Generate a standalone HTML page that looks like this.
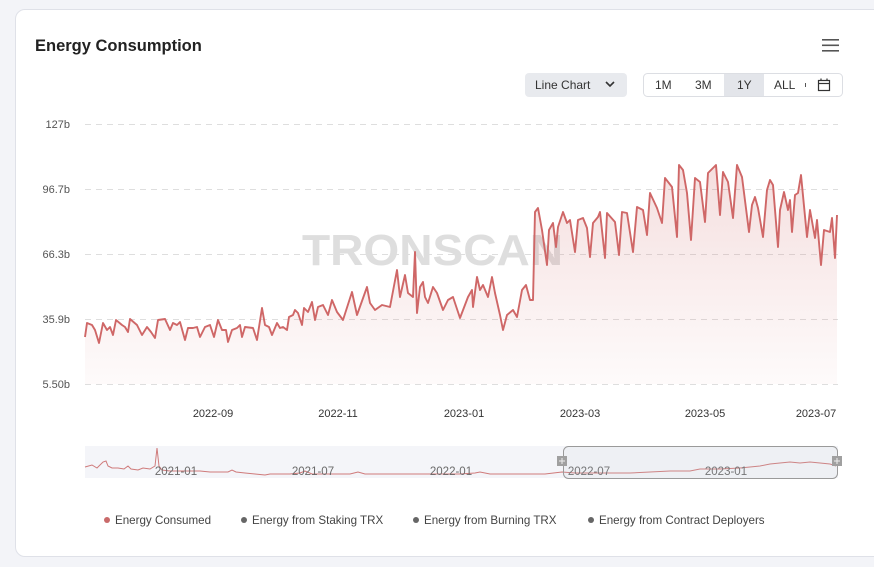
<!DOCTYPE html>
<html>
<head>
<meta charset="utf-8">
<style>
  html,body{margin:0;padding:0;}
  body{width:874px;height:567px;background:#f3f4f8;overflow:hidden;position:relative;font-family:"Liberation Sans",sans-serif;}
  .card{position:absolute;left:15px;top:9px;width:880px;height:548px;background:#fff;border:1px solid #dfe1e8;border-radius:10px;box-sizing:border-box;}
  svg{position:absolute;left:0;top:0;}
</style>
</head>
<body>
<div class="card"></div>
<svg width="874" height="567" viewBox="0 0 874 567" xmlns="http://www.w3.org/2000/svg" font-family="Liberation Sans, sans-serif">
  <defs>
    <linearGradient id="fillg" x1="0" y1="160" x2="0" y2="384" gradientUnits="userSpaceOnUse">
      <stop offset="0" stop-color="#d06a6a" stop-opacity="0.22"/>
      <stop offset="1" stop-color="#d06a6a" stop-opacity="0.03"/>
    </linearGradient>
  </defs>

  <!-- Title -->
  <text x="35" y="51" font-size="16.5" font-weight="bold" fill="#222">Energy Consumption</text>
  <!-- hamburger -->
  <rect x="822" y="39" width="17" height="1.6" fill="#555"/>
  <rect x="822" y="44.5" width="17" height="1.6" fill="#555"/>
  <rect x="822" y="50" width="17" height="1.6" fill="#555"/>

  <!-- Line chart dropdown -->
  <rect x="525" y="73" width="102" height="24" rx="4" fill="#e8eaee"/>
  <text x="535" y="89" font-size="12" fill="#333">Line Chart</text>
  <path d="M606 82 L610 86 L614 82" fill="none" stroke="#333" stroke-width="1.6"/>

  <!-- range group -->
  <rect x="643.5" y="73.5" width="199" height="23" rx="4" fill="#fff" stroke="#dcdee3"/>
  <rect x="724" y="74" width="40" height="22" fill="#e3e5ea"/>
  <text x="655" y="89" font-size="12" fill="#333">1M</text>
  <text x="695" y="89" font-size="12" fill="#333">3M</text>
  <text x="737" y="89" font-size="12" fill="#333">1Y</text>
  <text x="774" y="89" font-size="12" fill="#333">ALL</text>
  <rect x="805" y="83" width="1" height="4" fill="#555"/>
  <rect x="818.5" y="80.5" width="11" height="10" fill="none" stroke="#333" stroke-width="1.2"/>
  <line x1="818.5" y1="83.5" x2="829.5" y2="83.5" stroke="#333" stroke-width="1.2"/>
  <line x1="821" y1="78.5" x2="821" y2="81" stroke="#333" stroke-width="1.2"/>
  <line x1="827" y1="78.5" x2="827" y2="81" stroke="#333" stroke-width="1.2"/>

  <!-- grid -->
  <g stroke="#dedede" stroke-width="1" stroke-dasharray="6,5">
    <line x1="85" y1="124.5" x2="838" y2="124.5"/>
    <line x1="85" y1="189.5" x2="838" y2="189.5"/>
    <line x1="85" y1="254.5" x2="838" y2="254.5"/>
    <line x1="85" y1="319.5" x2="838" y2="319.5"/>
    <line x1="85" y1="384.5" x2="838" y2="384.5"/>
  </g>
  <g font-size="11" fill="#555" text-anchor="end">
    <text x="70" y="128">127b</text>
    <text x="70" y="193">96.7b</text>
    <text x="70" y="258">66.3b</text>
    <text x="70" y="323">35.9b</text>
    <text x="70" y="388">5.50b</text>
  </g>
  <g font-size="11" fill="#333" text-anchor="middle">
    <text x="213" y="417">2022-09</text>
    <text x="338" y="417">2022-11</text>
    <text x="464" y="417">2023-01</text>
    <text x="580" y="417">2023-03</text>
    <text x="705" y="417">2023-05</text>
    <text x="816" y="417">2023-07</text>
  </g>

  <!-- watermark -->
  <text x="302" y="265" font-size="44" font-weight="bold" fill="#dedede" textLength="261" lengthAdjust="spacingAndGlyphs">TRONSCAN</text>

  <!-- area -->
  <path fill="url(#fillg)" d="M85,384 L85,337 87,323 92,325 95,330 99,343 103,323 107,330 110,327 113,335 116,320 122,325 125,327 128,332 130,319 137,325 142,335 147,327 151,332 155,338 158,320 165,319 170,330 173,323 177,325 180,322 185,340 188,328 193,328 197,327 200,337 205,327 210,325 214,337 218,320 222,330 226,330 228,342 232,330 237,328 240,325 242,337 245,327 253,328 257,340 262,308 265,325 269,327 272,335 277,323 280,328 283,327 287,330 289,317 293,315 295,310 298,313 302,325 304,308 308,312 312,302 315,320 318,307 323,305 328,315 332,300 337,312 343,320 352,292 357,315 367,287 370,303 375,310 382,305 390,307 397,270 400,297 405,275 408,293 413,297 415,252 417,313 420,287 423,282 425,297 428,303 433,287 437,293 443,310 448,300 453,297 460,318 468,297 472,290 473,307 477,277 480,290 483,285 488,297 492,277 495,293 500,315 503,330 507,315 513,310 517,317 522,290 526,285 530,300 533,300 535,212 538,208 542,230 547,265 549,230 553,223 556,247 558,227 563,212 567,223 570,220 575,252 578,220 583,218 587,228 590,257 593,223 598,217 600,212 605,258 607,213 615,222 619,255 622,212 627,213 633,252 637,207 643,210 647,235 650,193 657,208 662,223 665,178 672,187 677,237 679,165 683,170 687,193 691,240 695,178 700,182 705,222 708,173 716,165 720,215 723,172 728,182 733,218 737,165 742,177 749,232 752,205 755,197 758,208 763,237 767,190 770,180 773,185 778,247 780,210 784,192 788,210 790,200 792,232 795,195 798,193 801,175 807,237 810,210 815,238 817,220 821,265 824,230 830,232 832,218 835,258 837,215 L837,384 Z"/>
  <!-- line -->
  <polyline fill="none" stroke="#cf6767" stroke-width="1.9" stroke-linejoin="round" points="85,337 87,323 92,325 95,330 99,343 103,323 107,330 110,327 113,335 116,320 122,325 125,327 128,332 130,319 137,325 142,335 147,327 151,332 155,338 158,320 165,319 170,330 173,323 177,325 180,322 185,340 188,328 193,328 197,327 200,337 205,327 210,325 214,337 218,320 222,330 226,330 228,342 232,330 237,328 240,325 242,337 245,327 253,328 257,340 262,308 265,325 269,327 272,335 277,323 280,328 283,327 287,330 289,317 293,315 295,310 298,313 302,325 304,308 308,312 312,302 315,320 318,307 323,305 328,315 332,300 337,312 343,320 352,292 357,315 367,287 370,303 375,310 382,305 390,307 397,270 400,297 405,275 408,293 413,297 415,252 417,313 420,287 423,282 425,297 428,303 433,287 437,293 443,310 448,300 453,297 460,318 468,297 472,290 473,307 477,277 480,290 483,285 488,297 492,277 495,293 500,315 503,330 507,315 513,310 517,317 522,290 526,285 530,300 533,300 535,212 538,208 542,230 547,265 549,230 553,223 556,247 558,227 563,212 567,223 570,220 575,252 578,220 583,218 587,228 590,257 593,223 598,217 600,212 605,258 607,213 615,222 619,255 622,212 627,213 633,252 637,207 643,210 647,235 650,193 657,208 662,223 665,178 672,187 677,237 679,165 683,170 687,193 691,240 695,178 700,182 705,222 708,173 716,165 720,215 723,172 728,182 733,218 737,165 742,177 749,232 752,205 755,197 758,208 763,237 767,190 770,180 773,185 778,247 780,210 784,192 788,210 790,200 792,232 795,195 798,193 801,175 807,237 810,210 815,238 817,220 821,265 824,230 830,232 832,218 835,258 837,215"/>

  <!-- data zoom -->
  <rect x="85" y="446" width="753" height="32" fill="#f4f5f9"/>
  <polyline fill="none" stroke="#cf7a7a" stroke-width="1" points="85,467 92,465 97,468 103,462 106,461 108,466 112,468 118,468 124,469 128,466 131,469 138,470 143,468 150,469 155,466 157,448 159,466 162,470 170,471 180,471 190,471 200,471 210,472 220,472 228,472 232,470 236,472 245,473 255,474 265,475 270,474 280,474 290,474 300,473 305,471 312,474 330,474 350,474 358,472 365,474 380,474 400,474 420,474 440,474 460,474 475,473 480,472 490,474 520,474 545,474 562,472 575,473 585,473 600,473 630,473 650,472 670,471 690,471 700,469 720,469 740,468 760,466 770,464 780,463 790,462 800,463 810,462 820,463 830,464 836,466"/>
  <g font-size="11.5" fill="#6a6a6a" text-anchor="middle">
    <text x="176" y="475">2021-01</text>
    <text x="313" y="475">2021-07</text>
    <text x="451" y="475">2022-01</text>
    <text x="589" y="475">2022-07</text>
    <text x="726" y="475">2023-01</text>
  </g>
  <rect x="563.5" y="446.5" width="274" height="32" rx="5" fill="rgba(200,205,215,0.12)" stroke="#9a9a9a" stroke-width="1"/>
  <rect x="557" y="456" width="10" height="10" fill="#a0a0a0"/>
  <rect x="832" y="456" width="10" height="10" fill="#a0a0a0"/>
  <path d="M562 458 v6 M559 461 h6 M837 458 v6 M834 461 h6" stroke="#eee" stroke-width="1"/>

  <!-- legend -->
  <g font-size="11.6" fill="#444">
    <circle cx="107" cy="520" r="3" fill="#c96a6a"/>
    <text x="115" y="524">Energy Consumed</text>
    <circle cx="244" cy="520" r="3" fill="#666"/>
    <text x="252" y="524">Energy from Staking TRX</text>
    <circle cx="416" cy="520" r="3" fill="#666"/>
    <text x="424" y="524">Energy from Burning TRX</text>
    <circle cx="591" cy="520" r="3" fill="#666"/>
    <text x="599" y="524">Energy from Contract Deployers</text>
  </g>
</svg>
</body>
</html>
